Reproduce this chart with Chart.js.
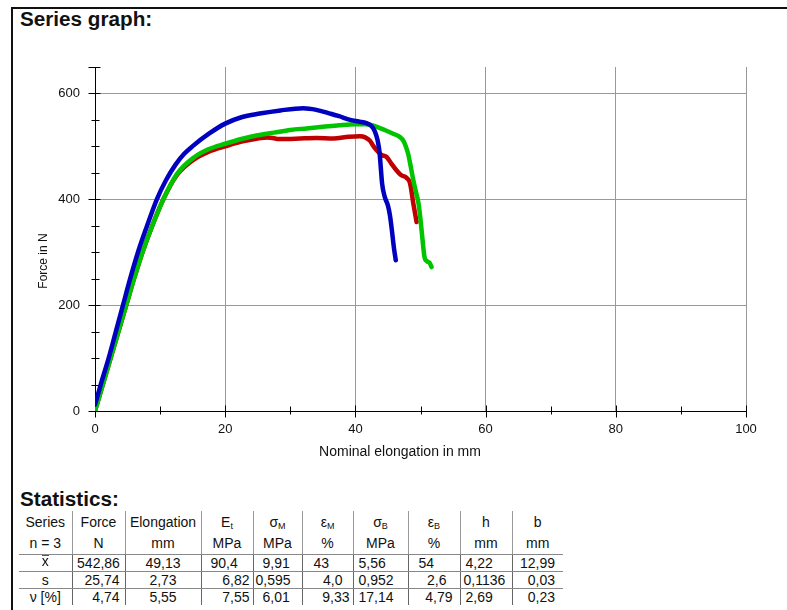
<!DOCTYPE html>
<html>
<head>
<meta charset="utf-8">
<script src="https://cdn.jsdelivr.net/npm/chart.js@4"></script>
<style>
  body { margin: 0; background: #fff; font-family: "Liberation Sans", Arial, sans-serif; color: #111; }
  #frame { position: absolute; left: 11px; top: 7px; width: 776px; height: 603px; border-top: 2px solid #111; border-left: 2px solid #111; }
  .head { position: absolute; left: 20px; font-weight: bold; font-size: 20.7px; line-height: 1; }
  #wrap { position: absolute; left: 0; top: 0; width: 787px; height: 470px; }
  .axtitle { position: absolute; white-space: nowrap; line-height: 1; transform-origin: center; }
  #xtitle { left: 400px; top: 451px; font-size: 14px; transform: translate(-50%, -50%); }
  #ytitle { left: 43px; top: 261px; font-size: 12px; transform: translate(-50%, -50%) rotate(-90deg); }
  table { position: absolute; left: 19px; top: 511px; border-collapse: collapse; table-layout: fixed; font-size: 14px; }
  td { padding: 0; white-space: nowrap; text-align: center; vertical-align: middle; }
  td + td { border-left: 1px solid #999; }
  tr.r1 td { height: 21px; }
  tr.r2 td { height: 22px; border-bottom: 1px solid #888; }
  tr.r3 td { height: 15px; border-bottom: 1px solid #888; }
  tr.r4 td { height: 15.5px; border-bottom: 1px solid #888; }
  tr.r5 td { height: 16px; }
  tr.r3 td + td, tr.r4 td + td, tr.r5 td + td { border-left-color: #666; }
  sub { font-size: 9px; vertical-align: -2px; line-height: 0; }
  .l { text-align: left; }
  .r { text-align: right; }
  .bar { display: inline-block; line-height: 9px; border-top: 1.5px solid #555; padding-top: 1px; position: relative; top: -2px; }
</style>
</head>
<body>
<div id="frame"></div>
<div class="head" style="top:9px">Series graph:</div>
<div id="wrap"><canvas id="chart" width="787" height="470"></canvas></div>
<div class="axtitle" id="xtitle">Nominal elongation in mm</div>
<div class="axtitle" id="ytitle">Force in N</div>
<div class="head" style="top:489px">Statistics:</div>
<table>
  <colgroup>
    <col style="width:53px"><col style="width:53px"><col style="width:76px"><col style="width:52px"><col style="width:49px">
    <col style="width:51px"><col style="width:55px"><col style="width:52px"><col style="width:52px"><col style="width:51px">
  </colgroup>
  <tr class="r1"><td>Series</td><td>Force</td><td>Elongation</td><td>E<sub>t</sub></td><td>σ<sub>M</sub></td><td>ε<sub>M</sub></td><td>σ<sub>B</sub></td><td>ε<sub>B</sub></td><td>h</td><td>b</td></tr>
  <tr class="r2"><td>n = 3</td><td>N</td><td>mm</td><td>MPa</td><td>MPa</td><td>%</td><td>MPa</td><td>%</td><td>mm</td><td>mm</td></tr>
  <tr class="r3"><td><span class="bar">x</span></td><td>542,86</td><td>49,13</td><td class="l" style="padding-left:9px">90,4</td><td class="l" style="padding-left:9px">9,91</td><td class="l" style="padding-left:11px">43</td><td class="l" style="padding-left:5px">5,56</td><td class="l" style="padding-left:10px">54</td><td class="l" style="padding-left:5px">4,22</td><td class="r" style="padding-right:8px">12,99</td></tr>
  <tr class="r4"><td>s</td><td class="r" style="padding-right:5px">25,74</td><td>2,73</td><td class="r" style="padding-right:3px">6,82</td><td class="l" style="padding-left:2px">0,595</td><td class="r" style="padding-right:10px">4,0</td><td class="l" style="padding-left:5px">0,952</td><td class="r" style="padding-right:13px">2,6</td><td class="l" style="padding-left:3px">0,1136</td><td class="r" style="padding-right:8px">0,03</td></tr>
  <tr class="r5"><td>ν [%]</td><td class="r" style="padding-right:5px">4,74</td><td>5,55</td><td class="r" style="padding-right:3px">7,55</td><td class="l" style="padding-left:9px">6,01</td><td class="r" style="padding-right:3px">9,33</td><td class="l" style="padding-left:5px">17,14</td><td class="r" style="padding-right:7px">4,79</td><td class="l" style="padding-left:5px">2,69</td><td class="r" style="padding-right:8px">0,23</td></tr>
</table>
<script>
// curves: elongation (mm) / force (N)
const blueX = [0, 1, 2.1, 3.2, 4.3, 5.4, 6.6, 8, 9.5, 10.9, 12.4, 13.7, 15.05, 17.5, 20, 22.5, 25.3, 28.5, 32, 34, 36.1, 37.5, 39.2, 40.5, 41.7, 42.5, 43.0, 43.4, 43.7, 43.9, 44.1, 44.5, 45.0, 45.3, 45.6, 45.9, 46.2];
const blueY = [12, 55, 100, 150, 200, 250, 300, 350, 400, 436, 466, 486, 501, 524, 543, 555, 562, 568, 572, 569, 562, 557, 550, 547, 544, 538, 528, 512, 490, 460, 430, 405, 388, 370, 342, 310, 285];

const greenX = [0, 1.2, 2.4, 3.6, 4.8, 6, 7.3, 8.8, 10.5, 12.6, 15.3, 17.5, 20, 22.5, 25, 27.5, 30, 32.5, 35, 37.5, 40, 41.5, 42.5, 43.5, 44.5, 45.8, 46.8, 47.4, 47.8, 48.1, 48.5, 48.9, 49.3, 49.7, 50.0, 50.3, 50.6, 51.0, 51.4, 51.7];
const greenY = [0, 50, 100, 150, 200, 250, 300, 350, 400, 448, 480, 495, 505, 514, 521, 526, 531, 534, 537, 540, 542, 542, 540, 536, 531, 524, 518, 510, 498, 486, 462, 436, 414, 392, 362, 325, 292, 283, 280, 272];

const redX = [0, 1.2, 2.4, 3.6, 4.8, 6, 7.3, 8.8, 10.5, 12.6, 15.3, 17.5, 20, 22.5, 25, 26.5, 27.3, 28, 29.5, 31.5, 34, 36.6, 39, 40.7, 41.5, 42.2, 42.8, 43.3, 44, 44.8, 45.5, 46.3, 47, 47.9, 48.4, 48.9, 49.4];
const redY = [0, 50, 100, 150, 200, 250, 300, 350, 400, 446, 476, 490, 500, 509, 515, 517, 516, 514, 514, 515, 516, 515, 518, 519, 517, 511, 500, 492, 484, 480, 468, 455, 446, 440, 430, 392, 357];

const xTicks = [0, 20, 40, 60, 80, 100];
const xMinor = [10, 30, 50, 70, 90];
const yTicks = [0, 200, 400, 600];
const yMajorMarks = [0, 200, 400, 600, 650];
const yMinor = [50, 100, 150, 250, 300, 350, 450, 500, 550];

const pts = (xs, ys) => xs.map((x, i) => ({x: x, y: ys[i]}));

Chart.defaults.font.family = '"Liberation Sans", Arial, sans-serif';
Chart.defaults.font.size = 13;
Chart.defaults.color = '#222';

// small tick marks crossing the axis lines
const axisTicks = {
  id: 'axisTicks',
  beforeDatasetsDraw(chart) {
    const {ctx, chartArea, scales: {x, y}} = chart;
    const ax = Math.round(chartArea.left) + 0.5;
    const ay = Math.round(chartArea.bottom) + 0.5;
    ctx.save();
    ctx.strokeStyle = '#000';
    ctx.lineWidth = 1;
    ctx.beginPath();
    xTicks.forEach(v => { const p = Math.round(x.getPixelForValue(v)) + 0.5; ctx.moveTo(p, ay - 6); ctx.lineTo(p, ay + 6); });
    xMinor.forEach(v => { const p = Math.round(x.getPixelForValue(v)) + 0.5; ctx.moveTo(p, ay - 5); ctx.lineTo(p, ay + 3); });
    yMajorMarks.forEach(v => { const p = Math.round(y.getPixelForValue(v)) + 0.5; ctx.moveTo(ax - 7, p); ctx.lineTo(ax + 5, p); });
    yMinor.forEach(v => { const p = Math.round(y.getPixelForValue(v)) + 0.5; ctx.moveTo(ax - 4, p); ctx.lineTo(ax + 4, p); });
    ctx.stroke();
    ctx.restore();
  }
};

new Chart(document.getElementById('chart'), {
  type: 'scatter',
  data: {
    datasets: [
      { data: pts(blueX, blueY), borderColor: '#0000c0' },
      { data: pts(greenX, greenY), borderColor: '#00c400' },
      { data: pts(redX, redY), borderColor: '#c00000' }
    ]
  },
  options: {
    responsive: false,
    animation: false,
    showLine: true,
    layout: { padding: { left: 20, right: 41, top: 67, bottom: 0 } },
    plugins: { legend: { display: false }, tooltip: { enabled: false } },
    elements: {
      point: { radius: 0 },
      line: { borderWidth: 4.5, cubicInterpolationMode: 'monotone', borderCapStyle: 'round', borderJoinStyle: 'round' }
    },
    scales: {
      x: {
        type: 'linear', min: 0, max: 100,
        afterBuildTicks: s => { s.ticks = xTicks.map(v => ({value: v})); },
        afterFit: s => { s.height = 59; },
        grid: { color: '#999', drawTicks: false },
        border: { color: '#000' },
        ticks: { padding: 11, color: '#111' }
      },
      y: {
        type: 'linear', min: 0, max: 650,
        afterBuildTicks: s => { s.ticks = yTicks.map(v => ({value: v})); },
        afterFit: s => { s.width = 75; },
        grid: { color: '#999', drawTicks: false },
        border: { color: '#000' },
        ticks: { padding: 15, color: '#111' }
      }
    }
  },
  plugins: [axisTicks]
});
</script>
</body>
</html>
